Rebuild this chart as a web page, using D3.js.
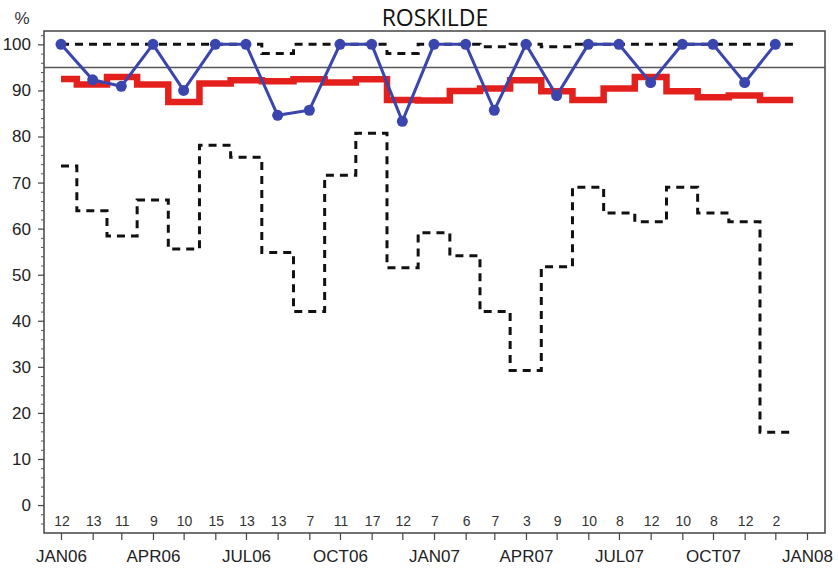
<!DOCTYPE html>
<html>
<head>
<meta charset="utf-8">
<script src="https://cdn.jsdelivr.net/npm/d3@7"></script>
<style>
  body { margin: 0; background: #fff; }
  svg { display: block; }
  .tick text { font-family: "Liberation Sans", Arial, sans-serif; fill: #222; }
</style>
</head>
<body>
<div id="chart"></div>
<script>
// monthly data, Jan 2006 .. Dec 2007
var months = ["2006-01","2006-02","2006-03","2006-04","2006-05","2006-06","2006-07","2006-08","2006-09","2006-10","2006-11","2006-12",
              "2007-01","2007-02","2007-03","2007-04","2007-05","2007-06","2007-07","2007-08","2007-09","2007-10","2007-11","2007-12"];

// blue line with dots (monthly percentage)
var monthly = [100, 92.3, 90.9, 100, 90, 100, 100, 84.6, 85.7, 100, 100, 83.3,
               100, 100, 85.7, 100, 88.9, 100, 100, 91.7, 100, 100, 91.7, 100];

// red step line (national level)
var national = [92.5, 91.3, 92.9, 91.3, 87.5, 91.5, 92.2, 92.0, 92.4, 91.7, 92.4, 87.9,
                 87.8, 89.9, 90.4, 92.2, 89.8, 87.9, 90.4, 92.9, 89.8, 88.5, 88.9, 87.9];

// dashed step lines (upper and lower limits)
var upperLimit = [100, 100, 100, 100, 100, 100, 100, 98, 100, 100, 100, 98,
                  100, 100, 99.5, 100, 99.5, 100, 100, 100, 100, 100, 100, 100];
var lowerLimit = [73.6, 63.9, 58.4, 66.2, 55.6, 78.1, 75.5, 54.8, 42.0, 71.6, 80.7, 51.5,
                  59.1, 54.1, 42.0, 29.2, 51.7, 69.0, 63.4, 61.5, 69.0, 63.4, 61.5, 15.8];

// number of patients per month
var counts = [12, 13, 11, 9, 10, 15, 13, 13, 7, 11, 17, 12, 7, 6, 7, 3, 9, 10, 8, 12, 10, 8, 12, 2];

var standard = 95;
var yTicks = [0, 10, 20, 30, 40, 50, 60, 70, 80, 90, 100];

var width = 838;
var height = 573;

var svg = d3.select("#chart")
    .append("svg")
    .attr("width", width)
    .attr("height", height);

var frame = {left: 44, top: 31, right: 825, bottom: 533};

var parse = d3.timeParse("%Y-%m");
var dates = months.map(parse);

var x = d3.scaleTime()
    .domain([parse("2006-01"), parse("2008-01")])
    .range([61, 807]);

var y = d3.scaleLinear()
    .domain([-6.07, 102.9])
    .range([frame.bottom, frame.top]);

// half a month, used to close the last step
var halfMonth = (x(parse("2008-01")) - x(dates[dates.length - 1])) / 2;

function stepPoints(values) {
    var pts = values.map((v, i) => [x(dates[i]), y(v)]);
    var last = pts[pts.length - 1];
    pts.push([last[0] + halfMonth + 2, last[1]]);
    return pts;
}

var stepLine = d3.line().curve(d3.curveStep);

// frame
svg.append("rect")
    .attr("x", frame.left)
    .attr("y", frame.top)
    .attr("width", frame.right - frame.left)
    .attr("height", frame.bottom - frame.top)
    .attr("fill", "none")
    .attr("stroke", "#444")
    .attr("stroke-width", 1.5);

// y axis, major and minor ticks
var yAxis = svg.append("g")
    .attr("transform", "translate(" + frame.left + ",0)")
    .call(d3.axisLeft(y).tickValues(yTicks).tickSize(6).tickPadding(7));
yAxis.select(".domain").remove();
yAxis.selectAll("line").attr("stroke", "#444").attr("stroke-width", 1.2);
yAxis.selectAll("text").style("font-size", "17px");

var yMinor = svg.append("g")
    .attr("transform", "translate(" + frame.left + ",0)")
    .call(d3.axisLeft(y).tickValues(d3.range(-4, 103, 2).filter(d => d % 10 != 0)).tickSize(3).tickFormat(""));
yMinor.select(".domain").remove();
yMinor.selectAll("line").attr("stroke", "#555");

// x axis, monthly ticks, labels every quarter
var fmt = d3.timeFormat("%b%y");
var xAxis = svg.append("g")
    .attr("transform", "translate(0," + frame.bottom + ")")
    .call(d3.axisBottom(x)
        .ticks(d3.timeMonth.every(1))
        .tickSize(7)
        .tickPadding(10)
        .tickFormat(d => d.getMonth() % 3 == 0 ? fmt(d).toUpperCase() : ""));
xAxis.select(".domain").remove();
xAxis.selectAll("line").attr("stroke", "#444").attr("stroke-width", 1.2);
xAxis.selectAll("text").style("font-size", "17px");

// standard line at 95%
svg.append("line")
    .attr("x1", frame.left)
    .attr("x2", frame.right)
    .attr("y1", y(standard))
    .attr("y2", y(standard))
    .attr("stroke", "#555")
    .attr("stroke-width", 1.5);

// lower dashed limit
svg.append("path")
    .attr("d", stepLine(stepPoints(lowerLimit)))
    .attr("fill", "none")
    .attr("stroke", "#111")
    .attr("stroke-width", 3)
    .attr("stroke-dasharray", "8,6");

// red national line
svg.append("path")
    .attr("d", stepLine(stepPoints(national)))
    .attr("fill", "none")
    .attr("stroke", "#e3201c")
    .attr("stroke-width", 6.5);

// upper dashed limit
svg.append("path")
    .attr("d", stepLine(stepPoints(upperLimit)))
    .attr("fill", "none")
    .attr("stroke", "#111")
    .attr("stroke-width", 3)
    .attr("stroke-dasharray", "8,6");

// blue monthly line with dots
var blue = "#3a45ad";
svg.append("path")
    .datum(monthly)
    .attr("d", d3.line().x((d, i) => x(dates[i])).y(d => y(d)))
    .attr("fill", "none")
    .attr("stroke", blue)
    .attr("stroke-width", 3);

svg.append("g")
    .selectAll("circle")
    .data(monthly)
    .join("circle")
    .attr("cx", (d, i) => x(dates[i]))
    .attr("cy", d => y(d))
    .attr("r", 5.5)
    .attr("fill", blue);

// counts along the bottom
svg.append("g")
    .selectAll("text")
    .data(counts)
    .join("text")
    .attr("x", (d, i) => x(dates[i]) + 1)
    .attr("y", 526)
    .attr("text-anchor", "middle")
    .style("font-family", "'Liberation Sans Narrow', 'Liberation Sans', Arial, sans-serif")
    .style("font-size", "14px")
    .style("fill", "#333")
    .text(d => d);

// titles
svg.append("text")
    .attr("x", 435)
    .attr("y", 26)
    .attr("text-anchor", "middle")
    .style("font-family", "'Open Sans', sans-serif")
    .style("font-size", "23px")
    .style("fill", "#111")
    .text("ROSKILDE");

svg.append("text")
    .attr("x", 22)
    .attr("y", 24)
    .attr("text-anchor", "middle")
    .style("font-family", "'Liberation Sans', Arial, sans-serif")
    .style("font-size", "17px")
    .style("fill", "#333")
    .text("%");
</script>
</body>
</html>
